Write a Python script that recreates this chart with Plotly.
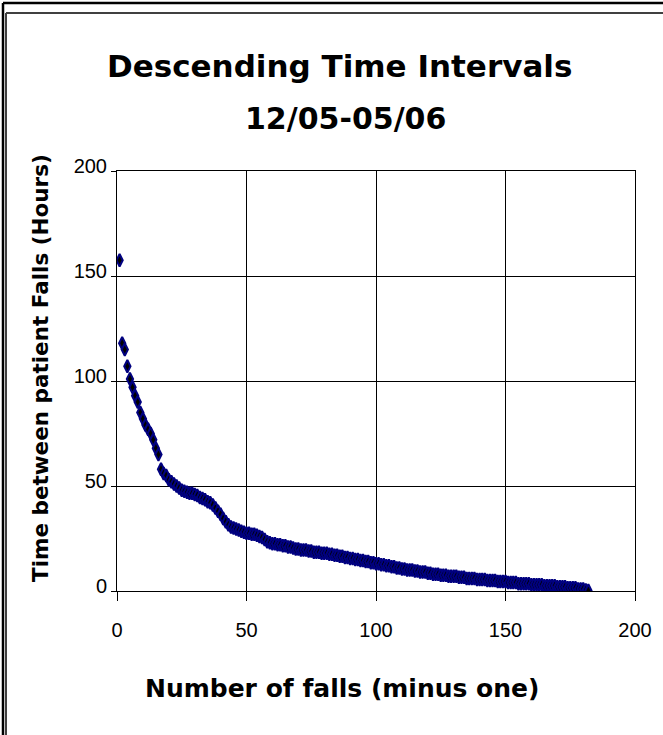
import plotly.graph_objects as go

# ---- data ----
fall_index = list(range(1, 183))
hours_between = [
    157.5, 118, 115, 107, 101, 97, 93, 90, 85, 82,
    79, 77, 75, 72, 68, 65, 58, 56, 55, 53,
    52, 51, 50, 49, 48, 47.5, 47, 46.5, 46.5, 46,
    45.5, 44.5, 44, 43.5, 42.5, 42, 41, 39.5, 38, 36.5,
    34.5, 33, 31.5, 30.5, 30, 29.5, 29, 28.5, 28, 27.5,
    27.5, 27, 27, 26.5, 26, 25.5, 24.5, 23.5, 23, 22.5,
    22.5, 22, 22, 21.5, 21.5, 21, 21, 20.5, 20, 20,
    19.5, 19.5, 19.5, 19, 19, 18.5, 18.5, 18.5, 18, 18,
    18, 17.5, 17.5, 17, 17, 16.5, 16.5, 16, 16, 15.5,
    15.5, 15, 15, 14.5, 14.5, 14, 14, 13.5, 13.5, 13,
    13, 12.5, 12.5, 12, 12, 11.5, 11.5, 11, 11, 10.5,
    10.5, 10, 10, 10, 9.5, 9.5, 9, 9, 9, 8.5,
    8.5, 8, 8, 8, 7.5, 7.5, 7.5, 7, 7, 7,
    7, 6.5, 6.5, 6.5, 6, 6, 6, 6, 5.5, 5.5,
    5.5, 5.5, 5, 5, 5, 5, 4.5, 4.5, 4.5, 4.5,
    4, 4, 4, 4, 3.5, 3.5, 3.5, 3.5, 3.5, 3,
    3, 3, 3, 3, 2.5, 2.5, 2.5, 2.5, 2.5, 2,
    2, 2, 2, 1.5, 1.5, 1.5, 1.5, 1, 1, 1,
    0.5, 0.2,
]
x_ticks = [0, 50, 100, 150, 200]
y_ticks = [0, 50, 100, 150, 200]
title_line1 = "Descending Time Intervals"
title_line2 = "12/05-05/06"
x_title = "Number of falls (minus one)"
y_title = "Time between patient Falls (Hours)"

# ---- layout geometry (pixels) ----
W_FIG, H_FIG = 663, 735
L, R, T, B = 117, 635, 171, 591
PW, PH = R - L, B - T


def px(xp):
    return (xp - L) / PW


def py(yp):
    return (B - yp) / PH


BOLD = "DejaVu Sans"
REG = "Liberation Sans"

fig = go.Figure()
fig.add_trace(go.Scatter(
    x=fall_index, y=hours_between, mode="markers",
    marker=dict(symbol="diamond-tall", size=9, color="#000000",
                line=dict(color="#000080", width=2)),
    hoverinfo="skip", showlegend=False,
))

axis_common = dict(
    showline=True, linecolor="black", linewidth=1, mirror=True,
    showgrid=True, gridcolor="black", gridwidth=1,
    zeroline=False, ticks="outside", tickcolor="black",
    tickfont=dict(family=REG, size=20, color="black"),
)

fig.update_xaxes(range=[0, 200], tickvals=x_ticks, ticktext=[str(v) for v in x_ticks],
                 ticklen=9, ticklabelstandoff=12, **axis_common)
fig.update_yaxes(range=[0, 200], tickvals=y_ticks, ticktext=[str(v) for v in y_ticks],
                 ticklen=5, ticklabelstandoff=0, ticklabelshift=-5, **axis_common)

annotations = [
    dict(text=title_line1, x=px(339), y=py(66), font=dict(family=BOLD, size=31, weight="bold", color="black")),
    dict(text=title_line2, x=px(345.5), y=py(118), font=dict(family=BOLD, size=30, weight="bold", color="black")),
    dict(text=x_title, x=px(342), y=py(688), font=dict(family=BOLD, size=25, weight="bold", color="black")),
    dict(text=y_title, x=px(40), y=py(368), textangle=-90,
         font=dict(family=BOLD, size=21.5, weight="bold", color="black")),
]
for a in annotations:
    a.update(xref="paper", yref="paper", xanchor="center", yanchor="middle", showarrow=False)

shapes = [
    # outer frame (black) - left and top edges visible
    dict(type="line", x0=px(3), x1=px(700), y0=py(3), y1=py(3), line=dict(color="black", width=2.5)),
    dict(type="line", x0=px(3), x1=px(3), y0=py(3), y1=py(760), line=dict(color="black", width=2.5)),
    # inner frame (dark gray)
    dict(type="line", x0=px(6), x1=px(700), y0=py(13), y1=py(13), line=dict(color="#404040", width=2)),
    dict(type="line", x0=px(6), x1=px(6), y0=py(13), y1=py(760), line=dict(color="#404040", width=2)),
]
for s in shapes:
    s.update(xref="paper", yref="paper", layer="above")

fig.update_layout(
    width=W_FIG, height=H_FIG,
    margin=dict(l=L, r=W_FIG - R, t=T, b=H_FIG - B, pad=0),
    paper_bgcolor="white", plot_bgcolor="white",
    showlegend=False, hovermode=False,
    annotations=annotations, shapes=shapes,
)

fig.write_html("out.html", config={"displayModeBar": False, "staticPlot": True})
